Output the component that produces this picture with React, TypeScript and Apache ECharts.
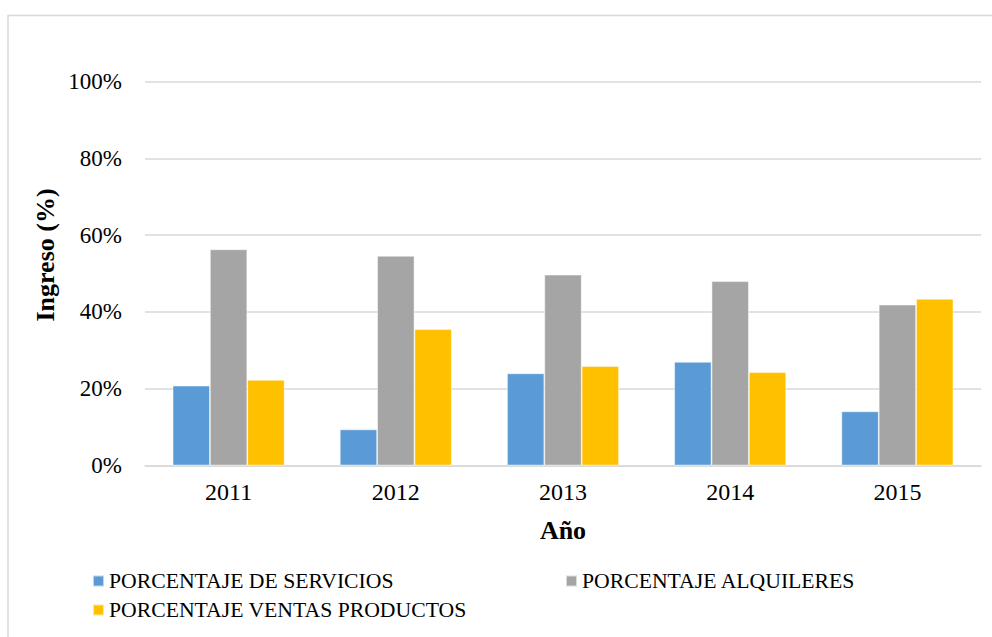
import React, { useEffect, useRef } from "react";
import * as echarts from "echarts";

const years = ["2011", "2012", "2013", "2014", "2015"];
const servicios = [20.8, 9.4, 24.0, 27.0, 14.1];
const alquileres = [56.3, 54.6, 49.7, 48.0, 41.9];
const ventas = [22.3, 35.5, 25.9, 24.3, 43.4];
const seriesNames = [
  "PORCENTAJE DE SERVICIOS",
  "PORCENTAJE ALQUILERES",
  "PORCENTAJE VENTAS PRODUCTOS",
];
const colors = ["#5B9BD5", "#A5A5A5", "#FFC000"];
const yTicks = [0, 20, 40, 60, 80, 100];

const FONT = "Liberation Serif";

export default function App() {
  const ref = useRef<HTMLDivElement>(null);
  useEffect(() => {
    if (!ref.current) return;
    const chart = echarts.init(ref.current, undefined, { renderer: "svg" });
    const legendText = { fontFamily: FONT, fontSize: 21.7, color: "#000" };
    const legendBase = {
      icon: "rect",
      itemWidth: 11,
      itemHeight: 11,
      itemGap: 4,
      textStyle: legendText,
      selectedMode: false,
    };
    const values = [servicios, alquileres, ventas];
    chart.setOption({
      animation: false,
      backgroundColor: "#fff",
      textStyle: { fontFamily: FONT },
      grid: { left: 145, right: 11, top: 81.5, bottom: 637 - 465.5, containLabel: false },
      legend: [
        { ...legendBase, left: 87, top: 565, data: [seriesNames[0]] },
        { ...legendBase, left: 560, top: 565, data: [seriesNames[1]] },
        { ...legendBase, left: 87, top: 594, data: [seriesNames[2]] },
      ],
      graphic: [
        {
          type: "rect",
          shape: { x: 8, y: 15.5, width: 1100, height: 800 },
          style: { fill: "none", stroke: "#d9d9d9", lineWidth: 1.5 },
          silent: true,
        },
        {
          type: "text",
          x: 45,
          y: 255,
          rotation: Math.PI / 2,
          style: {
            text: "Ingreso (%)",
            fontFamily: FONT,
            fontSize: 26,
            fontWeight: "bold",
            fill: "#000",
            align: "center",
            verticalAlign: "middle",
          },
        },
      ],
      xAxis: {
        type: "category",
        data: years,
        name: "Año",
        nameLocation: "middle",
        nameGap: 52,
        nameTextStyle: { fontFamily: FONT, fontSize: 26, fontWeight: "bold", color: "#000" },
        axisLine: { lineStyle: { color: "#d9d9d9", width: 1.5 } },
        axisTick: { show: false },
        axisLabel: { fontFamily: FONT, fontSize: 24, color: "#000", margin: 14 },
      },
      yAxis: {
        type: "value",
        min: 0,
        max: 100,
        interval: 20,
        axisLine: { show: false },
        axisTick: { show: false },
        axisLabel: {
          fontFamily: FONT,
          fontSize: 23,
          color: "#000",
          margin: 23,
          formatter: (v: number) => (yTicks.includes(v) ? `${v}%` : ""),
        },
        splitLine: { lineStyle: { color: "#d9d9d9", width: 1.5 } },
      },
      series: seriesNames.map((name, i) => ({
        name,
        type: "bar",
        data: values[i],
        barGap: "0%",
        barCategoryGap: "33%",
        itemStyle: { color: colors[i], borderColor: "rgba(255,255,255,0.6)", borderWidth: 0.8 },
      })),
    });
    return () => chart.dispose();
  }, []);
  return (
    <div
      ref={ref}
      style={{ position: "fixed", left: 0, top: 0, width: 992, height: 637, background: "#fff" }}
    />
  );
}
